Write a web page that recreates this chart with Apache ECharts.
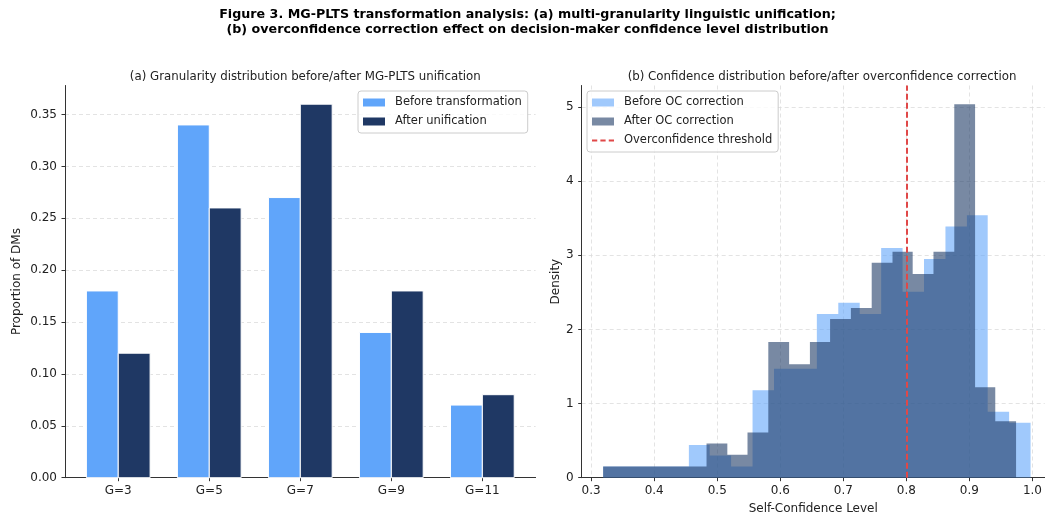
<!DOCTYPE html>
<html>
<head>
<meta charset="utf-8">
<script src="https://cdn.jsdelivr.net/npm/echarts@6/dist/echarts.min.js"></script>
<style>
  html, body { margin: 0; padding: 0; background: #ffffff; }
  #chart { width: 1045px; height: 520px; }
</style>
</head>
<body>
<div id="chart"></div>
<script>
// (a) share of decision-makers per linguistic granularity
const granularities = ['G=3', 'G=5', 'G=7', 'G=9', 'G=11'];
const shareBefore = [0.18, 0.34, 0.27, 0.14, 0.07];
const shareAfter = [0.12, 0.26, 0.36, 0.18, 0.08];
const shareTicks = [0, 0.05, 0.10, 0.15, 0.20, 0.25, 0.30, 0.35];

// (b) self-confidence histograms (20 bins each, density-normalised)
const confEdgesBefore = [0.319, 0.353, 0.387, 0.421, 0.455, 0.488, 0.522, 0.556, 0.590, 0.624, 0.658,
                         0.692, 0.726, 0.760, 0.794, 0.828, 0.862, 0.896, 0.929, 0.963, 0.997];
const confDensityBefore = [0.15, 0.15, 0.15, 0.15, 0.44, 0.30, 0.15, 1.18, 1.47, 1.47,
                           2.21, 2.36, 2.21, 3.10, 2.51, 2.95, 3.39, 3.54, 0.89, 0.74];
const confEdgesAfter = [0.319, 0.352, 0.384, 0.417, 0.450, 0.483, 0.516, 0.548, 0.581, 0.614, 0.647,
                        0.679, 0.712, 0.745, 0.778, 0.810, 0.843, 0.876, 0.909, 0.941, 0.974];
const confDensityAfter = [0.15, 0.15, 0.15, 0.15, 0.15, 0.46, 0.31, 0.61, 1.83, 1.53,
                          1.83, 2.14, 2.29, 2.90, 3.05, 2.75, 3.05, 5.04, 1.22, 0.76];
const thresholdLevel = 0.8;
const confTicks = [0.3, 0.4, 0.5, 0.6, 0.7, 0.8, 0.9, 1.0];
const densityTicks = [0, 1, 2, 3, 4, 5];

const FONT = 'DejaVu Sans';
const INK = '#222222';
const BLUE = '#60a5fa';
const NAVY = '#1f3864';
const BLUE_T = 'rgba(96,165,250,0.6)';
const NAVY_T = 'rgba(30,58,102,0.6)';
const RED = '#e04848';
const DASH_ICON = 'path://M0,0h5v2h-5z M8,0h5v2h-5z M16,0h5v2h-5z';

const spine = { show: true, onZero: false, lineStyle: { color: '#333333', width: 1 } };
const tick = { show: true, length: 3.5, lineStyle: { color: '#333333', width: 1 } };
const gridLine = { show: true, lineStyle: { color: '#dcdcdc', width: 0.8, type: [4, 3] } };
const labelStyle = { color: INK, fontFamily: FONT, fontSize: 12 };

// grouped bar drawn between [i + from, i + to] on the index axis
function groupedBar(from, to, color) {
  return function (params, api) {
    const i = api.value(0);
    const v = api.value(1);
    const top = api.coord([i + from, v]);
    const base = api.coord([i + to, 0]);
    return {
      type: 'rect',
      shape: { x: top[0], y: top[1], width: base[0] - top[0], height: base[1] - top[1] },
      style: { fill: color, stroke: '#ffffff', lineWidth: 1 }
    };
  };
}

// histogram outline as a stepped area: each bin holds its density until the next edge
function stepOutline(edges, density) {
  const pts = density.map((d, i) => [edges[i], d]);
  pts.push([edges[edges.length - 1], density[density.length - 1]]);
  return pts;
}

const legendBox = {
  orient: 'vertical', top: 91,
  itemWidth: 22, itemHeight: 8, itemGap: 6,
  padding: [5, 6, 5, 5],
  backgroundColor: 'rgba(255,255,255,0.8)', borderColor: '#cccccc', borderWidth: 1, borderRadius: 3,
  textStyle: { color: INK, fontFamily: FONT, fontSize: 11.5, lineHeight: 13, padding: [0, 0, 0, 5] }
};

const chart = echarts.init(document.getElementById('chart'));

chart.setOption({
  animation: false,
  backgroundColor: '#ffffff',
  textStyle: { fontFamily: FONT },
  title: [
    {
      text: 'Figure 3. MG-PLTS transformation analysis: (a) multi-granularity linguistic unification;\n(b) overconfidence correction effect on decision-maker confidence level distribution',
      left: 522.5, top: 2, textAlign: 'center',
      textStyle: { fontFamily: FONT, fontWeight: 'bold', fontSize: 12.7, lineHeight: 15, color: '#000000' }
    },
    {
      text: '(a) Granularity distribution before/after MG-PLTS unification',
      left: 300.3, top: 66, textAlign: 'center',
      textStyle: { fontFamily: FONT, fontWeight: 'normal', fontSize: 11.8, color: INK }
    },
    {
      text: '(b) Confidence distribution before/after overconfidence correction',
      left: 817, top: 66, textAlign: 'center',
      textStyle: { fontFamily: FONT, fontWeight: 'normal', fontSize: 11.8, color: INK }
    }
  ],
  legend: [
    {
      ...legendBox, left: 358,
      data: [{ name: 'Before transformation', icon: 'rect' }, { name: 'After unification', icon: 'rect' }]
    },
    {
      ...legendBox, left: 587,
      data: [
        { name: 'Before OC correction', icon: 'rect' },
        { name: 'After OC correction', icon: 'rect' },
        { name: 'Overconfidence threshold', icon: DASH_ICON, itemStyle: { color: RED } }
      ]
    }
  ],
  grid: [
    { left: 65, top: 85.5, width: 470.6, height: 392.2 },
    { left: 581.7, top: 85.5, right: 0, height: 392.2 }
  ],
  xAxis: [
    {
      gridIndex: 0, type: 'value', min: -0.585, max: 4.585,
      axisLine: spine,
      axisTick: { ...tick, customValues: granularities.map((g, i) => i) },
      axisLabel: { ...labelStyle, margin: 7, customValues: granularities.map((g, i) => i),
                   formatter: v => granularities[Math.round(v)] },
      splitLine: { show: false }
    },
    {
      gridIndex: 1, type: 'value', min: 0.285, max: 1.0195,
      name: 'Self-Confidence Level', nameLocation: 'middle', nameGap: 25,
      nameTextStyle: { ...labelStyle },
      axisLine: spine,
      axisTick: { ...tick, customValues: confTicks },
      axisLabel: { ...labelStyle, margin: 7, customValues: confTicks, formatter: v => v.toFixed(1) },
      splitLine: gridLine
    }
  ],
  yAxis: [
    {
      gridIndex: 0, type: 'value', min: 0, max: 0.378,
      name: 'Proportion of DMs', nameLocation: 'middle', nameGap: 42,
      nameTextStyle: { ...labelStyle },
      axisLine: spine,
      axisTick: { ...tick, customValues: shareTicks },
      axisLabel: { ...labelStyle, margin: 8, customValues: shareTicks, formatter: v => v.toFixed(2) },
      splitLine: gridLine
    },
    {
      gridIndex: 1, type: 'value', min: 0, max: 5.292,
      name: 'Density', nameLocation: 'middle', nameGap: 20,
      nameTextStyle: { ...labelStyle },
      axisLine: spine,
      axisTick: { ...tick, customValues: densityTicks },
      axisLabel: { ...labelStyle, margin: 8, customValues: densityTicks, formatter: v => String(v) },
      splitLine: gridLine
    }
  ],
  series: [
    {
      type: 'custom', name: 'Before transformation', xAxisIndex: 0, yAxisIndex: 0,
      itemStyle: { color: BLUE },
      data: granularities.map((g, i) => [i, shareBefore[i]]),
      encode: { x: 0, y: 1 },
      renderItem: groupedBar(-0.35, 0, BLUE), z: 2
    },
    {
      type: 'custom', name: 'After unification', xAxisIndex: 0, yAxisIndex: 0,
      itemStyle: { color: NAVY },
      data: granularities.map((g, i) => [i, shareAfter[i]]),
      encode: { x: 0, y: 1 },
      renderItem: groupedBar(0, 0.35, NAVY), z: 2
    },
    {
      type: 'line', name: 'Before OC correction', xAxisIndex: 1, yAxisIndex: 1,
      step: 'end', symbol: 'none', silent: true,
      data: stepOutline(confEdgesBefore, confDensityBefore),
      itemStyle: { color: BLUE_T },
      lineStyle: { width: 0, opacity: 0 },
      areaStyle: { color: BLUE_T, opacity: 1 },
      z: 2
    },
    {
      type: 'line', name: 'After OC correction', xAxisIndex: 1, yAxisIndex: 1,
      step: 'end', symbol: 'none', silent: true,
      data: stepOutline(confEdgesAfter, confDensityAfter),
      itemStyle: { color: NAVY_T },
      lineStyle: { width: 0, opacity: 0 },
      areaStyle: { color: NAVY_T, opacity: 1 },
      z: 3
    },
    {
      type: 'line', name: 'Overconfidence threshold', xAxisIndex: 1, yAxisIndex: 1,
      data: [], symbol: 'none',
      itemStyle: { color: RED },
      lineStyle: { color: RED, width: 2, type: [6, 3] },
      markLine: {
        silent: true, symbol: 'none', label: { show: false },
        lineStyle: { color: RED, width: 2, type: [6, 3] },
        data: [{ xAxis: thresholdLevel }]
      },
      z: 5
    }
  ]
});
</script>
</body>
</html>
